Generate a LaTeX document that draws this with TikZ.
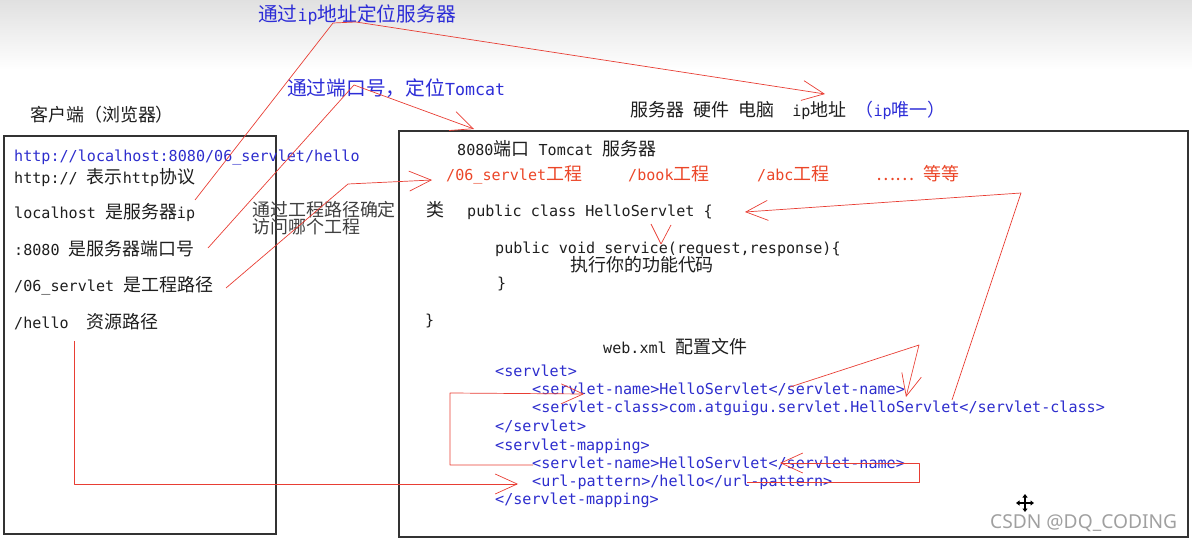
\documentclass[tikz,border=0pt]{standalone}
\usepackage{fontspec}
\setmainfont{DejaVu Sans Mono}
\newfontfamily\cjkfont{Noto Sans CJK SC}[Scale=1.19]
\newfontfamily\markfont{Noto Sans}
\newcommand{\zh}[1]{{\cjkfont #1}}
\usepackage{tikz}
\usetikzlibrary{arrows.meta}

\definecolor{inkgray}{RGB}{30,30,30}
\definecolor{notblue}{RGB}{45,45,215}
\definecolor{codeblue}{RGB}{45,45,205}
\definecolor{projred}{RGB}{235,70,40}
\definecolor{linered}{RGB}{232,62,52}
\definecolor{markgray}{RGB}{160,160,160}

\begin{document}
\begin{tikzpicture}[x=1pt, y=-1pt,
    txt/.style={anchor=west, inner sep=0pt, text height=11pt, text depth=3pt,
      text=inkgray, font=\fontsize{15.1}{18}\selectfont},
    note/.style={txt, text=notblue, font=\fontsize{16.6}{20}\selectfont},
    code/.style={txt, text=codeblue},
    proj/.style={txt, text=projred},
    frame/.style={draw=black!80, line width=1.1pt},
    link/.style={draw=linered, line width=0.7pt, line join=round},
    pointer/.style={link, -{Straight Barb[length=22pt, width=20pt, line width=0.7pt]}}]

    \useasboundingbox (0,0) rectangle (1192,545);
    \shade[top color=black!12, bottom color=white] (0,0) rectangle (1192,70);

    % draw boxes
    \draw[frame] (4,136) rectangle (276,534);
    \draw[frame] (399,131) rectangle (1188,537);

    % draw notes above
    \draw (258,18) node[note] (ipnote) {\zh{通过}ip\zh{地址定位服务器}};
    \draw (287,92) node[note] (portnote) {\zh{通过端口号，定位}Tomcat};
    \draw (30,118) node[txt] (client) {\zh{客户端（浏览器）}};
    \draw (630,113) node[txt] (server) {\zh{服务器} \zh{硬件} \zh{电脑}\ \ ip\zh{地址} \textcolor{notblue}{\zh{（}ip\zh{唯一）}}};

    % draw client texts
    \draw (14,158) node[code] (url) {http://localhost:8080/06\_servlet/hello};
    \draw (14,180) node[txt] (proto) {http:// \zh{表示}http\zh{协议}};
    \draw (14,215) node[txt] (host) {localhost \zh{是服务器}ip};
    \draw (14,252) node[txt] (port) {:8080 \zh{是服务器端口号}};
    \draw (14,288) node[txt] (path) {/06\_servlet \zh{是工程路径}};
    \draw (14,325) node[txt] (res) {/hello\ \ \zh{资源路径}};
    \draw (252,213) node[txt, text=black!75] (pathnote) {\zh{通过工程路径确定}};
    \draw (252,230) node[txt, text=black!75] (pathnotetwo) {\zh{访问哪个工程}};

    % draw server texts
    \draw (457,152) node[txt] (tomcat) {8080\zh{端口} Tomcat \zh{服务器}};
    \draw (446,177) node[proj] (projone) {/06\_servlet\zh{工程}};
    \draw (628,177) node[proj] (projtwo) {/book\zh{工程}};
    \draw (757,177) node[proj] (projthree) {/abc\zh{工程}};
    \draw (876,177) node[proj] (projmore) {\zh{……} \zh{等等}};
    \draw (426,213) node[txt] (clslabel) {\zh{类}};
    \draw (467,213) node[txt] (cls) {public class HelloServlet \{};
    \draw (495,250) node[txt] (service) {public void service(request,response)\{};
    \draw (570,268) node[txt] (body) {\zh{执行你的功能代码}};
    \draw (497,285) node[txt] (closeone) {\}};
    \draw (425,322) node[txt] (closetwo) {\}};
    \draw (603,350) node[txt] (webxml) {web.xml \zh{配置文件}};

    % draw web.xml lines
    \draw (495,373) node[code] (xmlone) {<servlet>};
    \draw (532,391) node[code] (sname) {<servlet-name>HelloServlet</servlet-name>};
    \draw (532,409) node[code] (sclass) {<servlet-class>com.atguigu.servlet.HelloServlet</servlet-class>};
    \draw (495,427) node[code] (xmltwo) {</servlet>};
    \draw (495,446) node[code] (xmlthree) {<servlet-mapping>};
    \draw (532,464) node[code] (mname) {<servlet-name>HelloServlet</servlet-name>};
    \draw (532,482) node[code] (upattern) {<url-pattern>/hello</url-pattern>};
    \draw (495,500) node[code] (xmlfour) {</servlet-mapping>};

    % draw red connectors
    \coordinate (protofoot) at (195,200);
    \coordinate (ipbend) at (333,23);
    \coordinate (ipbendtwo) at (356,22);
    \coordinate (iptip) at (825,94);
    \draw[pointer] (protofoot) -- (ipbend) -- (ipbendtwo) -- (iptip);

    \coordinate (portfoot) at (208,248);
    \coordinate (portbend) at (354,85);
    \coordinate (porttip) at (474,129);
    \draw[pointer] (portfoot) -- (portbend) -- (porttip);

    \coordinate (pathfoot) at (226,288);
    \coordinate (pathbend) at (348,184);
    \coordinate (pathtip) at (432,180);
    \draw[pointer] (pathfoot) -- (pathbend) -- (pathtip);

    \coordinate (classfoot) at (952,400);
    \coordinate (classbend) at (1021,193);
    \coordinate (classtip) at (745,212);
    \draw[pointer] (classfoot) -- (classbend) -- (classtip);

    \draw[link] (651,224) -- (661,244) -- (671,225);

    \coordinate (snamefoot) at (790,387);
    \coordinate (snamebend) at (919,345);
    \coordinate (snametip) at (906,397);
    \draw[pointer] (snamefoot) -- (snamebend) -- (snametip);

    \coordinate (upfoot) at (747,482);
    \draw[pointer] (upfoot) -- (919,482) -- (919,463) -- (780,463);

    \coordinate (mnamefoot) at (533,465);
    \draw[pointer] (mnamefoot) -- (450,465) -- (450,393) -- (584,394);

    \coordinate (resfoot) at (74,341);
    \draw[pointer] (resfoot) -- (74,484) -- (518,484);

    % draw cursor and watermark
    \draw[line width=1.4pt, {Triangle[length=3.5pt,width=5pt]}-{Triangle[length=3.5pt,width=5pt]}] (1016,503) -- (1034,503);
    \draw[line width=1.4pt, {Triangle[length=3.5pt,width=5pt]}-{Triangle[length=3.5pt,width=5pt]}] (1025,494) -- (1025,512);
    \draw (990,523) node[anchor=west, inner sep=0pt, text=markgray, font=\markfont\fontsize{19.2}{21}\selectfont] (mark) {CSDN @DQ\_CODING};

  \end{tikzpicture}
\end{document}
